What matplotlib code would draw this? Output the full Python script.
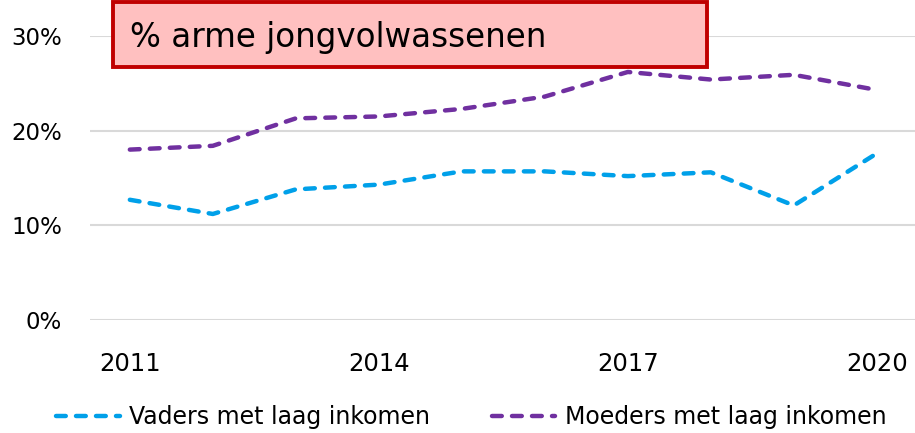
import matplotlib.pyplot as plt
from matplotlib.patches import Rectangle
from matplotlib.ticker import FuncFormatter

# data
years = [2011, 2012, 2013, 2014, 2015, 2016, 2017, 2018, 2019, 2020]
vaders = [12.7, 11.2, 13.8, 14.3, 15.7, 15.7, 15.2, 15.6, 12.1, 17.6]
moeders = [18.0, 18.4, 21.3, 21.5, 22.3, 23.6, 26.2, 25.4, 25.9, 24.3]
year_labels = ["2011", "2014", "2017", "2020"]
title = "% arme jongvolwassenen"

plt.rcParams['font.family'] = ['DejaVu Sans']

fig = plt.figure(figsize=(9.15, 4.33), dpi=100)
ax = fig.add_axes([90 / 915, 1 - 320 / 433, 825 / 915, 284 / 433])

x = list(range(len(years)))
ax.plot(x, vaders, color='#00a0e9', lw=3.2, ls=(0, (2.2, 2.3)), dash_capstyle='round',
        label='Vaders met laag inkomen', clip_on=False)
ax.plot(x, moeders, color='#7030a0', lw=3.2, ls=(0, (2.2, 2.3)), dash_capstyle='round',
        label='Moeders met laag inkomen', clip_on=False)

ax.set_xlim(-0.48, 9.46)
ax.set_ylim(0, 30)
ax.set_yticks([0, 10, 20, 30])
ax.yaxis.set_major_formatter(FuncFormatter(lambda v, p: f"{v:.0f}%"))
ax.set_xticks([years.index(int(y)) for y in year_labels])
ax.set_xticklabels(year_labels)
ax.grid(axis='y', color='#d9d9d9', lw=1.5)
ax.set_axisbelow(True)
for s in ax.spines.values():
    s.set_visible(False)
ax.tick_params(axis='both', length=0, colors='black')
ax.tick_params(axis='y', pad=20, labelsize=16.5)
ax.tick_params(axis='x', pad=23, labelsize=17.5)

# title box
fig.add_artist(Rectangle((113 / 915, 1 - 67 / 433), 594 / 915, 65 / 433,
                         transform=fig.transFigure, facecolor='#ffc0c0',
                         edgecolor='#c00000', lw=2.8, zorder=5))
fig.text(130 / 915, 1 - 47 / 433, title, fontsize=23.5, color='black',
         ha='left', va='baseline', zorder=6)

fig.legend(loc='center', bbox_to_anchor=(0.515, 1 - 417 / 433), ncol=2, frameon=False,
           fontsize=17, handlelength=2.7, handletextpad=0.4, columnspacing=2.6)

fig.savefig('out.png', dpi=100)
